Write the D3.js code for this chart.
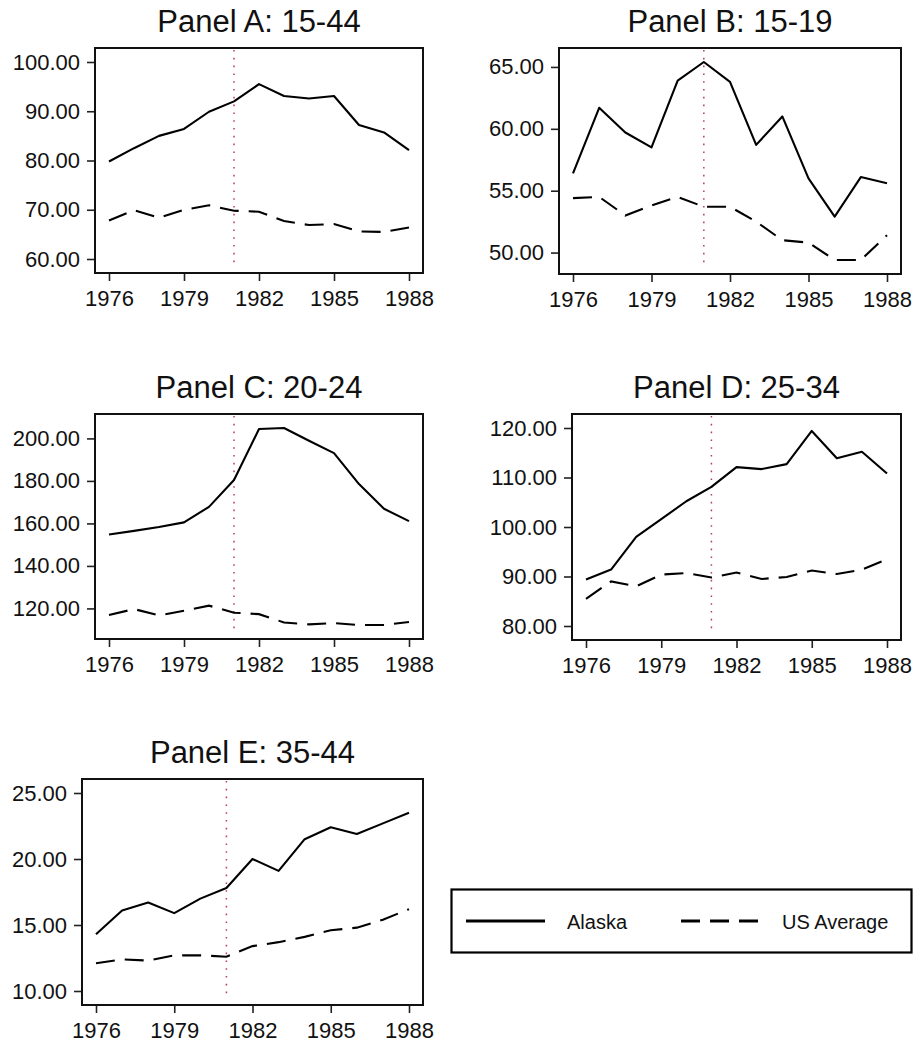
<!DOCTYPE html>
<html>
<head>
<meta charset="utf-8">
<script src="https://cdn.jsdelivr.net/npm/d3@7/dist/d3.min.js"></script>
<style>
  html, body { margin: 0; padding: 0; background: #fff; }
  svg { display: block; font-family: "Liberation Sans", Arial, sans-serif; }
</style>
</head>
<body>
<svg id="chart" width="916" height="1044"></svg>
<script>
// Years covered by every panel
const years = [1976, 1977, 1978, 1979, 1980, 1981, 1982, 1983, 1984, 1985, 1986, 1987, 1988];
const xTickValues = [1976, 1979, 1982, 1985, 1988];
const eventYear = 1981;

// Panel A: ages 15-44
const alaskaA = [79.8, 82.5, 85.0, 86.4, 89.9, 92.0, 95.5, 93.1, 92.6, 93.1, 87.2, 85.7, 82.1];
const usA     = [67.8, 69.9, 68.4, 70.0, 70.9, 69.8, 69.6, 67.7, 66.9, 67.1, 65.6, 65.5, 66.4];
const yTicksA = [60, 70, 80, 90, 100];

// Panel B: ages 15-19
const alaskaB = [56.4, 61.7, 59.7, 58.5, 63.9, 65.4, 63.8, 58.7, 61.0, 56.0, 52.9, 56.1, 55.6];
const usB     = [54.4, 54.5, 53.0, 53.8, 54.5, 53.7, 53.7, 52.5, 51.0, 50.8, 49.4, 49.4, 51.4];
const yTicksB = [50, 55, 60, 65];

// Panel C: ages 20-24
const alaskaC = [154.8, 156.5, 158.3, 160.5, 167.8, 180.4, 204.4, 204.9, 198.9, 193.1, 178.5, 166.9, 161.1];
const usC     = [116.9, 119.7, 116.7, 118.9, 121.3, 118.0, 117.3, 113.4, 112.5, 113.1, 112.2, 112.2, 113.6];
const yTicksC = [120, 140, 160, 180, 200];

// Panel D: ages 25-34
const alaskaD = [89.4, 91.4, 98.0, 101.6, 105.2, 108.1, 112.1, 111.7, 112.7, 119.4, 113.9, 115.2, 110.8];
const usD     = [85.5, 89.0, 88.0, 90.4, 90.7, 89.8, 90.8, 89.5, 89.9, 91.2, 90.5, 91.4, 93.5];
const yTicksD = [80, 90, 100, 110, 120];

// Panel E: ages 35-44
const alaskaE = [14.3, 16.1, 16.7, 15.9, 17.0, 17.8, 20.0, 19.1, 21.5, 22.4, 21.9, 22.7, 23.5];
const usE     = [12.1, 12.4, 12.3, 12.7, 12.7, 12.6, 13.4, 13.7, 14.1, 14.6, 14.8, 15.4, 16.2];
const yTicksE = [10, 15, 20, 25];

const seriesNames = ["Alaska", "US Average"];

// Panel frames (plot box edges in px)
const panels = [
  { title: "Panel A: 15-44", alaska: alaskaA, us: usA, ticks: yTicksA, x0: 95,  y0: 48,  x1: 423, y1: 273 },
  { title: "Panel B: 15-19", alaska: alaskaB, us: usB, ticks: yTicksB, x0: 559, y0: 48,  x1: 901, y1: 274 },
  { title: "Panel C: 20-24", alaska: alaskaC, us: usC, ticks: yTicksC, x0: 95,  y0: 414, x1: 423, y1: 639 },
  { title: "Panel D: 25-34", alaska: alaskaD, us: usD, ticks: yTicksD, x0: 572, y0: 414, x1: 901, y1: 640 },
  { title: "Panel E: 35-44", alaska: alaskaE, us: usE, ticks: yTicksE, x0: 82,  y0: 779, x1: 423, y1: 1005 }
];

const PAD = 14;              // inner margin between plot box and data range
const DASH = "19,10";        // US Average line pattern
const svg = d3.select("#chart");

panels.forEach(p => {
  const g = svg.append("g");

  const x = d3.scaleLinear()
    .domain(d3.extent(years))
    .range([p.x0 + PAD, p.x1 - PAD]);

  const yExtent = d3.extent([...p.alaska, ...p.us, ...p.ticks]);
  const y = d3.scaleLinear()
    .domain(yExtent)
    .range([p.y1 - PAD, p.y0 + PAD]);

  // title
  g.append("text")
    .attr("x", (p.x0 + p.x1) / 2)
    .attr("y", p.y0 - 16.5)
    .attr("text-anchor", "middle")
    .attr("font-size", 31)
    .attr("fill", "#111")
    .text(p.title);

  // y axis
  const yAxis = g.append("g")
    .attr("transform", `translate(${p.x0},0)`)
    .call(d3.axisLeft(y).tickValues(p.ticks).tickFormat(d3.format(".2f")).tickSize(8).tickPadding(7));
  yAxis.select(".domain").remove();
  yAxis.selectAll("line").attr("stroke", "#222").attr("stroke-width", 1.6);
  yAxis.selectAll("text").attr("font-size", 22).attr("fill", "#111")
    .attr("font-family", "Liberation Sans, Arial, sans-serif");

  // x axis
  const xAxis = g.append("g")
    .attr("transform", `translate(0,${p.y1})`)
    .call(d3.axisBottom(x).tickValues(xTickValues).tickFormat(d3.format("d")).tickSize(8).tickPadding(9.5));
  xAxis.select(".domain").remove();
  xAxis.selectAll("line").attr("stroke", "#222").attr("stroke-width", 1.6);
  xAxis.selectAll("text").attr("font-size", 22).attr("fill", "#111")
    .attr("font-family", "Liberation Sans, Arial, sans-serif");

  // event marker
  g.append("line")
    .attr("x1", x(eventYear)).attr("x2", x(eventYear))
    .attr("y1", p.y0 + 2).attr("y2", p.y1 - 7)
    .attr("stroke", "#b4414c")
    .attr("stroke-width", 1.5)
    .attr("stroke-dasharray", "1.6,6.2");

  const line = d3.line()
    .x((d, i) => x(years[i]))
    .y(d => y(d));

  g.append("path")
    .datum(p.us)
    .attr("d", line)
    .attr("fill", "none")
    .attr("stroke", "#000")
    .attr("stroke-width", 2.1)
    .attr("stroke-dasharray", DASH);

  g.append("path")
    .datum(p.alaska)
    .attr("d", line)
    .attr("fill", "none")
    .attr("stroke", "#000")
    .attr("stroke-width", 2.1)
    .attr("stroke-linejoin", "round");

  // plot frame
  g.append("rect")
    .attr("x", p.x0).attr("y", p.y0)
    .attr("width", p.x1 - p.x0).attr("height", p.y1 - p.y0)
    .attr("fill", "none")
    .attr("stroke", "#111")
    .attr("stroke-width", 2);
});

// legend
const legend = svg.append("g");
legend.append("rect")
  .attr("x", 451.5).attr("y", 889.5)
  .attr("width", 460).attr("height", 63)
  .attr("fill", "#fff")
  .attr("stroke", "#000")
  .attr("stroke-width", 2.2);

const legendItems = [
  { name: seriesNames[0], dash: null, lx0: 466, lx1: 545, tx: 567 },
  { name: seriesNames[1], dash: DASH, lx0: 681, lx1: 760, tx: 782 }
];
legendItems.forEach(it => {
  legend.append("line")
    .attr("x1", it.lx0).attr("x2", it.lx1)
    .attr("y1", 921).attr("y2", 921)
    .attr("stroke", "#000")
    .attr("stroke-width", 2.8)
    .attr("stroke-dasharray", it.dash);
  legend.append("text")
    .attr("x", it.tx).attr("y", 929)
    .attr("font-size", 20)
    .attr("fill", "#111")
    .text(it.name);
});
</script>
</body>
</html>
